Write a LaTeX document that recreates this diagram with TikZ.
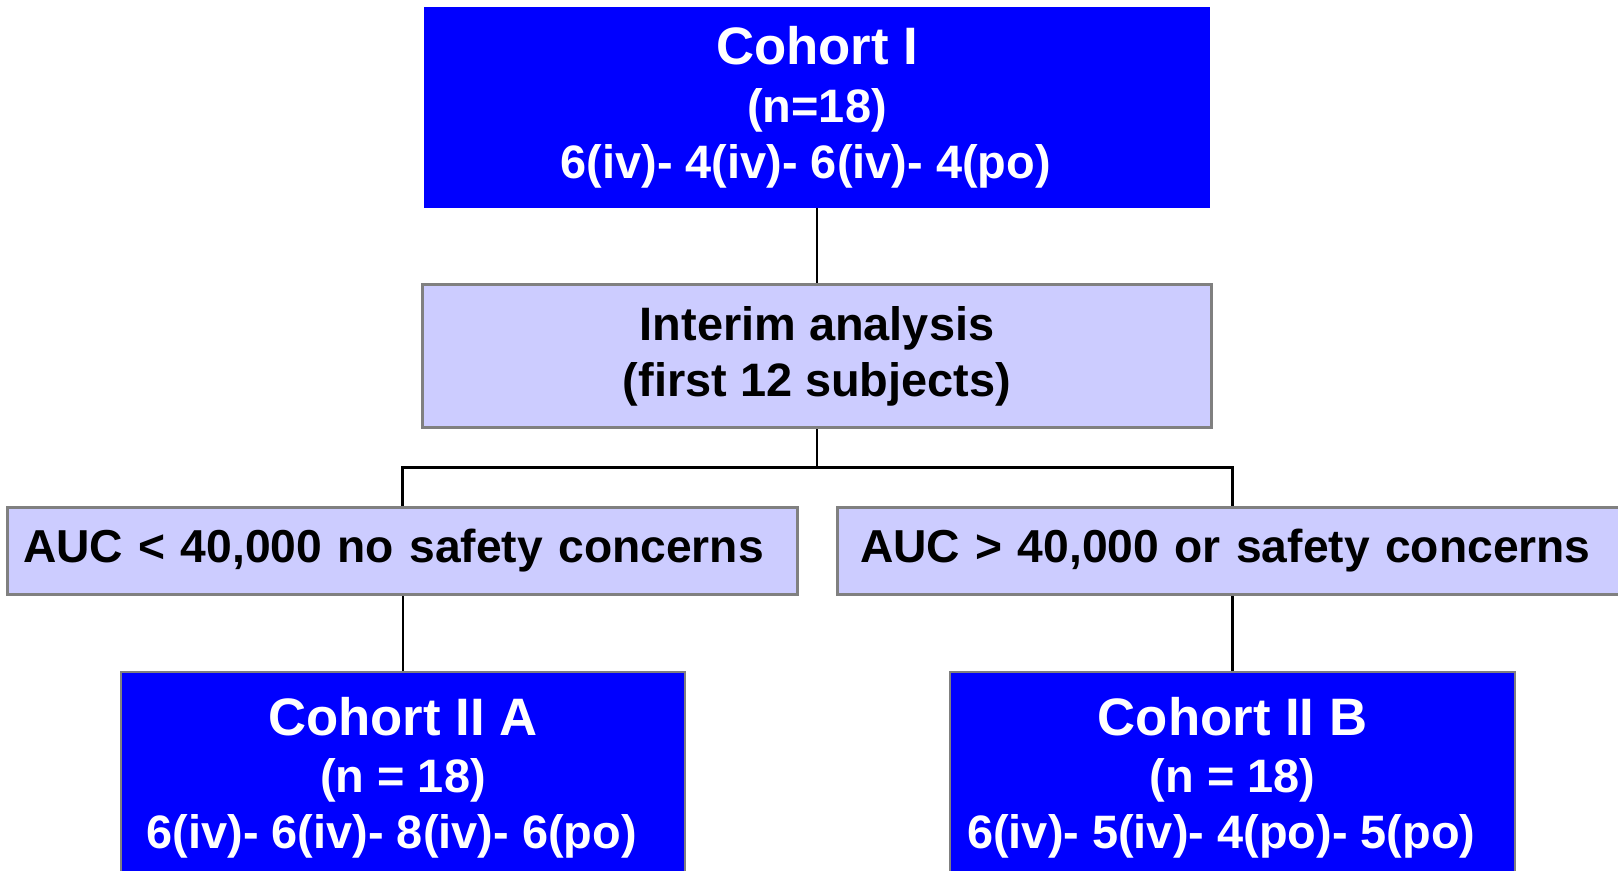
\documentclass[tikz,border=0pt]{standalone}
\usepackage{fontspec}
\setmainfont{Liberation Sans}
\usepackage{tikz}
\usetikzlibrary{positioning}
\definecolor{cohortblue}{RGB}{0,0,255}
\definecolor{paleblue}{RGB}{204,204,255}
\definecolor{edgegray}{RGB}{128,128,128}

\begin{document}
\begin{tikzpicture}[x=0.02cm,y=-0.02cm,
  cohortbox/.style={fill=cohortblue,text=white,align=center,inner sep=0pt,
    font=\bfseries\fontsize{26.7}{32}\selectfont},
  analysisbox/.style={fill=paleblue,draw=edgegray,line width=1.7pt,inner sep=0pt,
    font=\bfseries\fontsize{26.7}{32}\selectfont},
  link/.style={draw=black,line width=1.2pt}]
\useasboundingbox (0,0) rectangle (1618,871);
\clip (0,0) rectangle (1618,871);
\node[cohortbox, minimum width=15.72cm, minimum height=4.02cm] (cohortI) at (817,107.5)
  {{\fontsize{30}{33}\selectfont Cohort I}\\[1pt](n=18)\\6(iv)- 4(iv)- 6(iv)- 4(po)\hspace*{0.45cm}};
\node[analysisbox, align=center, minimum width=15.8cm, minimum height=2.88cm] (interim) at (817,356)
  {Interim analysis\\(first 12 subjects)};
\node[analysisbox, font=\bfseries\fontsize{26.3}{32}\selectfont, align=left, text width=15.18cm, minimum width=15.82cm, minimum height=1.74cm] (condA) at (402.5,551)
  {AUC < 40,000 no safety concerns};
\node[analysisbox, font=\bfseries\fontsize{26.3}{32}\selectfont, align=left, text width=15.08cm, minimum width=16cm, minimum height=1.74cm] (condB) at (1237,551)
  {AUC > 40,000 or safety concerns};
\node[cohortbox, draw=edgegray, line width=1pt, anchor=north, minimum width=11.28cm, minimum height=4.24cm] (cohortIIA) at (403,671)
  {{\fontsize{30}{33}\selectfont Cohort II A}\\(n = 18)\\6(iv)- 6(iv)- 8(iv)- 6(po)\hspace*{0.45cm}};
\node[cohortbox, draw=edgegray, line width=1pt, anchor=north, minimum width=11.3cm, minimum height=4.24cm] (cohortIIB) at (1232.5,671)
  {{\fontsize{30}{33}\selectfont Cohort II B}\\(n = 18)\\6(iv)- 5(iv)- 4(po)- 5(po)\hspace*{0.45cm}};
\draw[link] (cohortI) -- (interim);
\draw[link] (interim.south) -- ++(0,38) coordinate (split);	% branch point
\draw[link] (condA.north) |- (split) -| (cohortIIB.north |- condB.north);
\draw[link] (cohortIIA.north) -- (cohortIIA.north |- condA.south);
\draw[link] (cohortIIB.north) -- (cohortIIB.north |- condB.south);
\end{tikzpicture}
\end{document}
